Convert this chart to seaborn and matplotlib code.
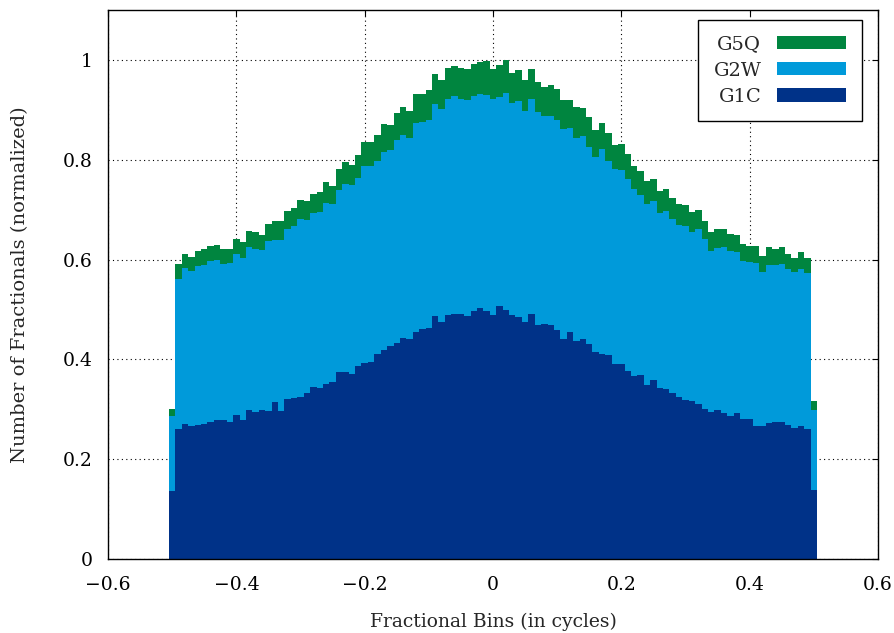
import numpy as np
import pandas as pd
import matplotlib
matplotlib.use("Agg")
import matplotlib.pyplot as plt
import seaborn as sns
from matplotlib.patches import Patch
from matplotlib.ticker import FuncFormatter

# Bin centres: 101 bins of width 0.01 cycles, from -0.5 to 0.5
bin_centers = np.round(np.arange(-50, 51) * 0.01, 2)

g1c = [0.136, 0.261, 0.271, 0.267, 0.269, 0.271, 0.275, 0.279, 0.279, 0.275,
       0.289, 0.279, 0.299, 0.295, 0.299, 0.297, 0.315, 0.297, 0.321, 0.323,
       0.325, 0.333, 0.345, 0.343, 0.351, 0.355, 0.375, 0.375, 0.371, 0.387,
       0.393, 0.395, 0.411, 0.419, 0.427, 0.433, 0.443, 0.441, 0.455, 0.461,
       0.463, 0.487, 0.475, 0.489, 0.491, 0.491, 0.487, 0.497, 0.503, 0.497,
       0.489, 0.507, 0.499, 0.489, 0.485, 0.475, 0.491, 0.469, 0.471, 0.469,
       0.459, 0.441, 0.455, 0.437, 0.441, 0.431, 0.415, 0.411, 0.409, 0.391,
       0.391, 0.377, 0.367, 0.369, 0.349, 0.359, 0.343, 0.341, 0.333, 0.325,
       0.319, 0.317, 0.311, 0.301, 0.295, 0.299, 0.293, 0.287, 0.293, 0.281,
       0.281, 0.267, 0.267, 0.273, 0.275, 0.275, 0.269, 0.263, 0.267, 0.261,
       0.138]

g2w = [0.151, 0.301, 0.313, 0.311, 0.319, 0.319, 0.323, 0.321, 0.313, 0.319,
       0.323, 0.325, 0.327, 0.327, 0.321, 0.341, 0.325, 0.343, 0.341, 0.345,
       0.357, 0.347, 0.349, 0.353, 0.363, 0.357, 0.365, 0.377, 0.379, 0.377,
       0.395, 0.393, 0.387, 0.397, 0.393, 0.407, 0.406, 0.402, 0.418, 0.414,
       0.416, 0.424, 0.426, 0.432, 0.436, 0.430, 0.432, 0.430, 0.428, 0.432,
       0.432, 0.418, 0.434, 0.424, 0.432, 0.422, 0.430, 0.426, 0.416, 0.418,
       0.420, 0.420, 0.408, 0.406, 0.406, 0.395, 0.391, 0.411, 0.389, 0.391,
       0.389, 0.385, 0.375, 0.361, 0.363, 0.359, 0.351, 0.357, 0.349, 0.345,
       0.349, 0.339, 0.351, 0.341, 0.323, 0.325, 0.333, 0.331, 0.323, 0.317,
       0.315, 0.327, 0.309, 0.317, 0.315, 0.317, 0.313, 0.313, 0.315, 0.313,
       0.161]

g5q = [0.013, 0.030, 0.028, 0.028, 0.030, 0.032, 0.030, 0.030, 0.030, 0.028,
       0.030, 0.032, 0.032, 0.034, 0.030, 0.034, 0.037, 0.037, 0.036, 0.036,
       0.038, 0.038, 0.038, 0.040, 0.042, 0.036, 0.042, 0.044, 0.040, 0.046,
       0.048, 0.048, 0.051, 0.055, 0.049, 0.053, 0.056, 0.054, 0.058, 0.056,
       0.060, 0.060, 0.058, 0.062, 0.060, 0.062, 0.062, 0.064, 0.064, 0.068,
       0.060, 0.064, 0.066, 0.060, 0.062, 0.062, 0.060, 0.060, 0.058, 0.062,
       0.062, 0.058, 0.056, 0.062, 0.056, 0.059, 0.053, 0.051, 0.055, 0.048,
       0.052, 0.050, 0.046, 0.048, 0.046, 0.044, 0.044, 0.044, 0.042, 0.042,
       0.042, 0.040, 0.038, 0.036, 0.038, 0.038, 0.036, 0.034, 0.034, 0.034,
       0.032, 0.034, 0.032, 0.036, 0.032, 0.034, 0.030, 0.028, 0.034, 0.030,
       0.017]

series = ["G5Q", "G2W", "G1C"]
colors = {"G5Q": "#00853f", "G2W": "#009ada", "G1C": "#003288"}

df = pd.concat(
    [pd.DataFrame({"bin": bin_centers, "weight": vals, "series": name})
     for name, vals in zip(series, [g5q, g2w, g1c])],
    ignore_index=True,
)

sns.set_theme(style="white")
plt.rcParams["font.family"] = ["DejaVu Serif"]
plt.rcParams["font.size"] = 13.5

fig = plt.figure(figsize=(8.94, 6.33), dpi=100)
ax = fig.add_axes([108 / 894, 74 / 633, 770 / 894, 549 / 633])

edges = [round(-0.505 + 0.01 * i, 3) for i in range(102)]
sns.histplot(
    data=df, x="bin", weights="weight", hue="series", hue_order=series,
    palette=colors, multiple="stack", bins=edges, element="step",
    fill=True, alpha=1, linewidth=0, legend=False, ax=ax,
)

ax.set_xlim(-0.6, 0.6)
ax.set_ylim(0, 1.1)
ax.set_xticks(np.round(np.arange(-0.6, 0.61, 0.2), 1))
ax.set_yticks(np.round(np.arange(0, 1.01, 0.2), 1))
fmt = FuncFormatter(lambda v, _: f"{v:g}".replace("-", "\u2212"))
ax.xaxis.set_major_formatter(fmt)
ax.yaxis.set_major_formatter(fmt)

ax.grid(True, color="black", linestyle=(0, (1, 3)), linewidth=0.8)
ax.set_axisbelow(True)
for sp in ax.spines.values():
    sp.set_color("black")
    sp.set_linewidth(1.0)
ax.tick_params(direction="in", top=True, right=True, length=4, width=0.8,
               colors="black", labelsize=13.5)
ax.tick_params(axis="x", pad=12)
ax.tick_params(axis="y", pad=11)

ax.set_xlabel("Fractional Bins (in cycles)", fontsize=13.5, labelpad=14)
ax.set_ylabel("Number of Fractionals (normalized)", fontsize=14, labelpad=24)

handles = [Patch(facecolor=colors[s], edgecolor="none", label=s) for s in series]
leg = ax.legend(
    handles=handles, loc="upper right", bbox_to_anchor=(0.979, 0.982),
    borderaxespad=0, markerfirst=False, frameon=True, fancybox=False,
    edgecolor="black", framealpha=1, fontsize=14, handlelength=3.55,
    handleheight=0.67, labelspacing=0.42, handletextpad=0.82, borderpad=0.8,
)
leg.get_frame().set_linewidth(1.0)

fig.savefig("out.png", dpi=100)
